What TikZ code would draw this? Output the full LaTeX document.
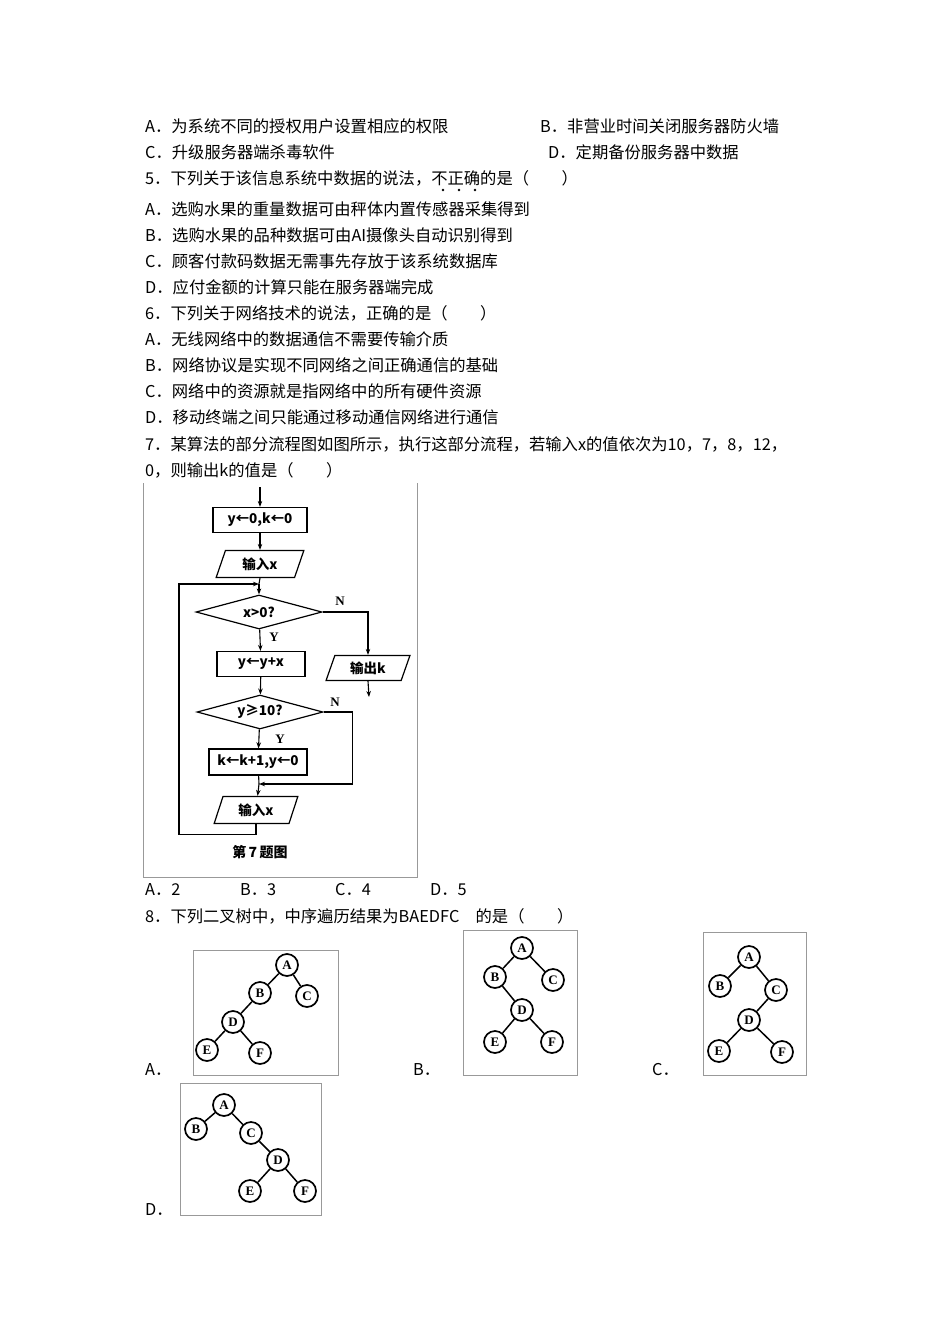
\documentclass[tikz,border=0pt]{standalone}
\usepackage{fontspec}
\setmainfont{Liberation Serif}
\newfontfamily\cjk{Noto Sans CJK SC}
\usetikzlibrary{shapes.geometric,arrows.meta}
\begin{document}
\begin{tikzpicture}[x=1pt,y=-1pt,
  txt/.style={anchor=west,inner sep=0,font=\cjk\fontsize{16.3}{16.3}\selectfont},
  fc/.style={draw,line width=1.2pt,minimum height=25pt,inner sep=0,font=\cjk\bfseries\fontsize{13.5}{13.5}\selectfont},
  io/.style={fc,trapezium,trapezium left angle=70,trapezium right angle=110,trapezium stretches=true},
  dec/.style={fc,diamond,aspect=3.7,minimum width=126pt,minimum height=34pt},
  ar/.style={line width=1.1pt,-{Stealth[length=6pt]}},
  ln/.style={line width=1.1pt},
  lab/.style={font=\bfseries\fontsize{13}{13}\selectfont,inner sep=0},
  tn/.style={draw,circle,line width=1.7pt,minimum size=22pt,inner sep=0,font=\bfseries\fontsize{13}{13}\selectfont},
  te/.style={line width=1.5pt},
  fr/.style={draw=black!40,line width=0.6pt}]
\useasboundingbox[fill=white] (0,0) rectangle (950,1344);
% question text
\node[txt] (t1) at (145,126) {A．为系统不同的授权用户设置相应的权限};
\node[txt] (t1b) at (540,126) {B．非营业时间关闭服务器防火墙};
\node[txt] (t2) at (145,152) {C．升级服务器端杀毒软件};
\node[txt] (t2b) at (548,152) {D．定期备份服务器中数据};
\node[txt] (t3) at (145,178) {5．下列关于该信息系统中数据的说法，不正确的是（　　）};
\foreach \x in {443,459,475}{\fill (\x,190) circle (1.3pt);}
\node[txt] (t4) at (145,209) {A．选购水果的重量数据可由秤体内置传感器采集得到};
\node[txt] (t5) at (145,235) {B．选购水果的品种数据可由AI摄像头自动识别得到};
\node[txt] (t6) at (145,261) {C．顾客付款码数据无需事先存放于该系统数据库};
\node[txt] (t7) at (145,287) {D．应付金额的计算只能在服务器端完成};
\node[txt] (t8) at (145,313) {6．下列关于网络技术的说法，正确的是（　　）};
\node[txt] (t9) at (145,339) {A．无线网络中的数据通信不需要传输介质};
\node[txt] (t10) at (145,365) {B．网络协议是实现不同网络之间正确通信的基础};
\node[txt] (t11) at (145,391) {C．网络中的资源就是指网络中的所有硬件资源};
\node[txt] (t12) at (145,417) {D．移动终端之间只能通过移动通信网络进行通信};
\node[txt] (t13) at (145,444) {7．某算法的部分流程图如图所示，执行这部分流程，若输入x的值依次为10，7，8，12，};
\node[txt] (t14) at (145,470) {0，则输出k的值是（　　）};
\node[txt] (a1) at (145,890) {A．2};
\node[txt] (a2) at (240,890) {B．3};
\node[txt] (a3) at (335,890) {C．4};
\node[txt] (a4) at (430,890) {D．5};
\node[txt] (t15) at (145,916) {8．下列二叉树中，中序遍历结果为BAEDFC\quad 的是（　　）};
% flowchart
\draw[fr] (143,483) -- (143,877) -- (417,877) -- (417,483);
\coordinate (st) at (260,487);
\node[fc,minimum width=94pt] (b1) at (260,520) {y←0,k←0};
\node[io,minimum width=88pt,minimum height=27pt] (p1) at (260,564) {输入x};
\coordinate (j1) at (259,584);
\node[dec] (d1) at (259,612) {x>0?};
\node[fc,minimum width=88pt] (b2) at (261,664) {y←y+x};
\node[io,minimum width=84pt] (po) at (368,668) {输出k};
\coordinate (en) at (369,697);
\node[dec] (d2) at (260,712) {y≥10?};
\node[fc,minimum width=98pt,minimum height=26pt] (b3) at (258,762) {k←k+1,y←0};
\coordinate (j2) at (259,784);
\node[io,minimum width=84pt,minimum height=27pt] (p2) at (256,810) {输入x};
\draw[ar] (st) -- (b1);
\draw[ar] (b1) -- (p1);
\draw[ln] (p1.south) -- (j1);
\draw[ar] (j1) -- (d1);
\draw[ar] (d1) -- (b2);
\draw[ar] (d1.east) -| (po.north);
\draw[ar] (po.south) -- (en);
\draw[ar] (b2) -- (d2);
\draw[ar] (d2) -- (b3);
\draw[ln] (b3) -- (j2);
\draw[ar] (d2.east) -- ++(29,0) |- (j2);
\draw[ar] (j2) -- (p2);
\draw[ar] (p2.south) -- ++(0,10) -| (179,584) -- (j1);
\node[lab] (y1) at (274,637) {Y};
\node[lab] (n1) at (340,601) {N};
\node[lab] (y2) at (280,739) {Y};
\node[lab] (n2) at (335,702) {N};
\node[inner sep=0,font=\cjk\bfseries\fontsize{14}{14}\selectfont] (cap) at (260,852) {第\,7\,题图};
% tree labels
\node[txt] (la) at (145,1070) {A．};
\node[txt] (lb) at (413,1070) {B．};
\node[txt] (lc) at (652,1070) {C．};
\node[txt] (ld) at (145,1210) {D．};
% tree A
\draw[fr] (193,950) rectangle (338,1075);
\node[tn] (aA) at (287,965) {A}; \node[tn] (aB) at (260,993) {B}; \node[tn] (aC) at (307,996) {C};
\node[tn] (aD) at (233,1022) {D}; \node[tn] (aE) at (207,1050) {E}; \node[tn] (aF) at (260,1053) {F};
\draw[te] (aA)--(aB) (aA)--(aC) (aB)--(aD) (aD)--(aE) (aD)--(aF);
% tree B
\draw[fr] (463,930) rectangle (577,1075);
\node[tn] (bA) at (522,948) {A}; \node[tn] (bB) at (495,977) {B}; \node[tn] (bC) at (553,980) {C};
\node[tn] (bD) at (522,1010) {D}; \node[tn] (bE) at (495,1042) {E}; \node[tn] (bF) at (552,1042) {F};
\draw[te] (bA)--(bB) (bA)--(bC) (bB)--(bD) (bD)--(bE) (bD)--(bF);
% tree C
\draw[fr] (703,932) rectangle (806,1075);
\node[tn] (cA) at (749,957) {A}; \node[tn] (cB) at (720,986) {B}; \node[tn] (cC) at (776,990) {C};
\node[tn] (cD) at (749,1020) {D}; \node[tn] (cE) at (719,1051) {E}; \node[tn] (cF) at (782,1052) {F};
\draw[te] (cA)--(cB) (cA)--(cC) (cC)--(cD) (cD)--(cE) (cD)--(cF);
% tree D
\draw[fr] (180,1083) rectangle (321,1215);
\node[tn] (dA) at (224,1105) {A}; \node[tn] (dB) at (196,1129) {B}; \node[tn] (dC) at (251,1133) {C};
\node[tn] (dD) at (278,1160) {D}; \node[tn] (dE) at (250,1191) {E}; \node[tn] (dF) at (305,1191) {F};
\draw[te] (dA)--(dB) (dA)--(dC) (dC)--(dD) (dD)--(dE) (dD)--(dF);
\end{tikzpicture}
\end{document}
